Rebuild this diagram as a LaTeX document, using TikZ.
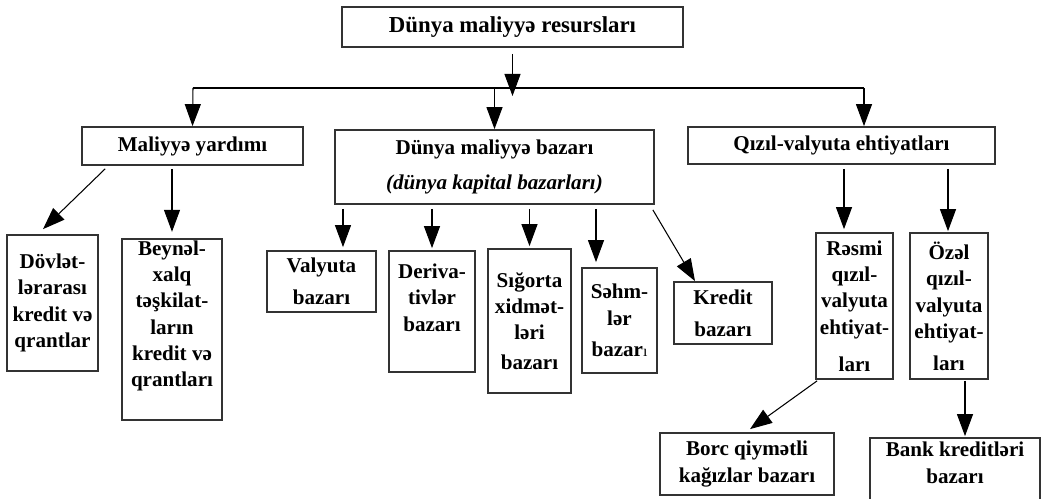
\documentclass[tikz,border=0pt]{standalone}
\usepackage{fontspec}
\setmainfont{Liberation Serif}
\usetikzlibrary{arrows.meta}

\begin{document}
\begin{tikzpicture}[
  x=0.02cm, y=-0.02cm,
  box/.style={draw=black!80, line width=1pt, align=center, inner sep=1pt,
    font=\bfseries\fontsize{12}{15}\selectfont},
  arr/.style={draw, -{Triangle[length=0.44cm, width=0.32cm]}, line width=0.6pt}
]
\useasboundingbox (0,0) rectangle (1042,499);

% top levels
\node[box, minimum width=6.82cm, minimum height=0.80cm, font=\bfseries\fontsize{13}{15}\selectfont] (res) at (512.5,27) {Dünya maliyyə resursları};
\node[box, minimum width=4.42cm, minimum height=0.76cm] (yard) at (192.5,146) {Maliyyə yardımı};
\node[box, minimum width=6.38cm, minimum height=1.48cm, font=\bfseries\fontsize{12}{20}\selectfont] (bazar) at (494.5,167) {Dünya maliyyə bazarı\\ \textit{(dünya kapital bazarları)}};
\node[box, minimum width=6.14cm, minimum height=0.74cm] (qizil) at (841.5,145.5) {Qızıl-valyuta ehtiyatları};

% lower boxes
\node[box, minimum width=1.82cm, minimum height=2.72cm] (dovlet) at (52.5,303) {Dövlət-\\lərarası\\kredit və\\qrantlar};
\node[box, minimum width=2.00cm, minimum height=3.62cm, text depth=18pt] (beynel) at (172,329.5) {Beynəl-\\xalq\\təşkilat-\\ların\\kredit və\\qrantları};
\node[box, minimum width=2.18cm, minimum height=1.22cm] (valyuta) at (321.5,281.5) {Valyuta\\[3pt]bazarı};
\node[box, minimum width=1.72cm, minimum height=2.42cm, text depth=16pt] (deriv) at (432,311.5) {Deriva-\\tivlər\\bazarı};
\node[box, minimum width=1.66cm, minimum height=2.88cm] (sigorta) at (529.5,321) {Sığorta\\xidmət-\\ləri\\[2pt]bazarı};
\node[box, minimum width=1.50cm, minimum height=2.10cm] (sehm) at (619.5,320.5) {Səhm-\\lər\\[3pt]bazar{\mdseries\small ı}};
\node[box, minimum width=1.96cm, minimum height=1.24cm] (kredit) at (723,313) {Kredit\\[3pt]bazarı};
\node[box, minimum width=1.54cm, minimum height=2.92cm] (resmi) at (854.5,306) {Rəsmi\\qızıl-\\valyuta\\ehtiyat-\\[6pt]ları};
\node[box, minimum width=1.56cm, minimum height=2.92cm] (ozel) at (949,306) {Özəl\\qızıl-\\valyuta\\ehtiyat-\\[3pt]ları};
\node[box, minimum width=3.48cm, minimum height=1.24cm] (borc) at (747,464) {Borc qiymətli\\kağızlar bazarı};
\node[box, minimum width=3.40cm, minimum height=1.44cm, text depth=13pt] (bank) at (955,474) {Bank kreditləri\\bazarı};

% bus
\coordinate (busL) at (193,88);
\coordinate (busR) at (864,88);
\draw[line width=0.6pt] (busL) -- (busR);
\draw[arr, shorten <=0.12cm, shorten >=-0.16cm] (res.south) -- (res.south |- busL);
\draw[arr] (busL) -- (yard.north);
\draw[arr] (bazar.north |- busL) -- (bazar.north);
\draw[arr] (busR) -- (busR |- qizil.north);

% from Maliyyə yardımı
\draw[arr] ([xshift=0.48cm,yshift=-0.06cm]yard.south west) -- ([xshift=-0.19cm,yshift=0.1cm]dovlet.north);
\draw[arr, shorten <=0.06cm, shorten >=0.12cm] (yard.south -| beynel.north) -- (beynel.north);

% from Dünya maliyyə bazarı
\coordinate (v1) at ([xshift=0.43cm]valyuta.north);
\coordinate (v4) at ([xshift=-0.47cm]sehm.north);
\draw[arr, shorten <=0.08cm, shorten >=0.06cm] (bazar.south -| v1) -- (v1);
\draw[arr, shorten <=0.08cm, shorten >=0.04cm] (bazar.south -| deriv.north) -- (deriv.north);
\draw[arr, shorten <=0.08cm, shorten >=0.04cm] (bazar.south -| sigorta.north) -- (sigorta.north);
\draw[arr, shorten <=0.08cm, shorten >=0.1cm] (bazar.south -| v4) -- (v4);
\draw[arr] ([xshift=-0.04cm,yshift=-0.1cm]bazar.south east) -- ([xshift=-0.56cm]kredit.north);

% from Qızıl-valyuta ehtiyatları
\coordinate (q1) at ([xshift=-0.21cm]resmi.north);
\coordinate (q2) at ([xshift=-0.02cm]ozel.north);
\draw[arr, shorten <=0.08cm, shorten >=0.06cm] (qizil.south -| q1) -- (q1);
\draw[arr, shorten <=0.08cm, shorten >=0.02cm] (qizil.south -| q2) -- (q2);

% bottom level
\draw[arr] ([xshift=0.04cm,yshift=-0.02cm]resmi.south west) -- ([xshift=0.06cm,yshift=0.06cm]borc.north);
\coordinate (b2) at ([xshift=0.2cm]bank.north);
\draw[arr, shorten <=0.02cm, shorten >=0.02cm] (ozel.south -| b2) -- (b2);

\end{tikzpicture}
\end{document}
